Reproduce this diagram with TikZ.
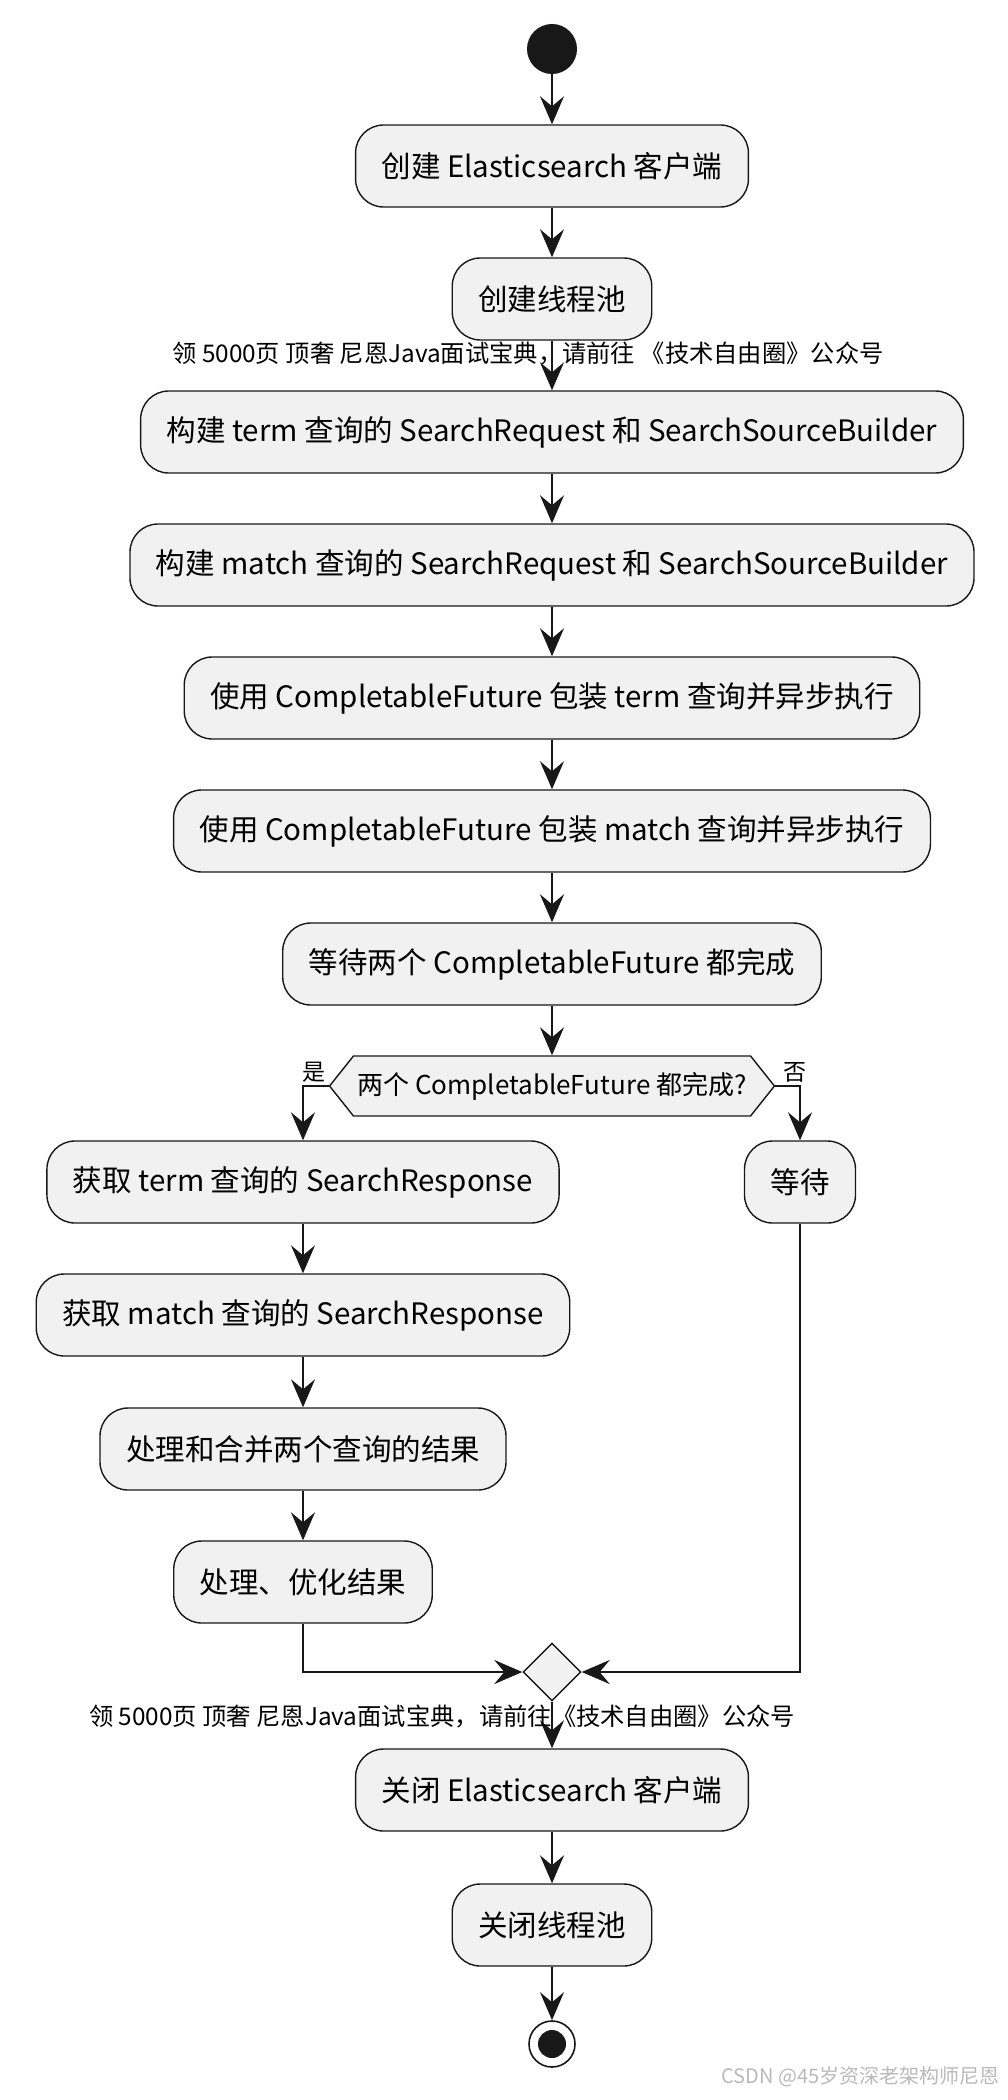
\documentclass[tikz,border=0pt]{standalone}
\usepackage{fontspec}
\setmainfont{Noto Sans CJK SC}
\usetikzlibrary{arrows.meta}
\usetikzlibrary{shapes.geometric}
\usetikzlibrary{shapes.symbols}
\definecolor{actfill}{HTML}{F1F1F1}
\definecolor{actline}{HTML}{181818}
\tikzset{
	actbox/.style={draw=actline, fill=actfill, line width=1.4pt, rounded corners=28pt, minimum height=82pt, inner xsep=26pt, font=\fontsize{29.5}{32}\selectfont},
	decbox/.style={signal, signal to=west and east, signal pointer angle=103, draw=actline, fill=actfill, line width=1.4pt, minimum height=60pt, inner xsep=4pt, font=\fontsize{26}{28}\selectfont},
	mergebox/.style={diamond, draw=actline, fill=actfill, line width=1.4pt, minimum width=58pt, minimum height=58pt, inner sep=0pt},
	startnode/.style={circle, fill=actline, minimum size=50pt, inner sep=0pt},
	endnode/.style={circle, draw=actline, line width=1.6pt, fill=white, minimum size=46pt, inner sep=0pt, path picture={\fill[actline] (path picture bounding box.center) circle (14pt);}},
	flow/.style={draw=actline, line width=2.2pt, -{Stealth[length=28pt,width=24pt,inset=10pt]}},
	branchlbl/.style={font=\fontsize{23}{25}\selectfont},
	notetext/.style={font=\fontsize{24.3}{27}\selectfont}
}
\newcommand{\drawAction}[3]{
	\node[actbox] (#1) at (#2) {#3};
}
\newcommand{\drawFlow}[2]{
	\draw[flow] (#1) -- (#2);
}
\begin{document}
\begin{tikzpicture}[x=1pt, y=-1pt]
	\useasboundingbox (0,0) rectangle (1007,2100);

	% main column
	\node[startnode] (start) at (552,49) {};
	\drawAction{newClient}{552,166}{创建 Elasticsearch 客户端}
	\drawAction{newPool}{552,299}{创建线程池}
	\drawAction{termReq}{552,432}{构建 term 查询的 SearchRequest 和 SearchSourceBuilder}
	\drawAction{matchReq}{552,565}{构建 match 查询的 SearchRequest 和 SearchSourceBuilder}
	\drawAction{termFuture}{552,698}{使用 CompletableFuture 包装 term 查询并异步执行}
	\drawAction{matchFuture}{552,831}{使用 CompletableFuture 包装 match 查询并异步执行}
	\drawAction{waitAll}{552,964}{等待两个 CompletableFuture 都完成}
	\node[decbox] (allDone) at (552,1086) {两个 CompletableFuture 都完成?};

	% yes branch
	\drawAction{termResp}{303,1182}{获取 term 查询的 SearchResponse}
	\drawAction{matchResp}{303,1315}{获取 match 查询的 SearchResponse}
	\drawAction{mergeRes}{303,1449}{处理和合并两个查询的结果}
	\drawAction{tuneRes}{303,1582}{处理、优化结果}

	% no branch
	\drawAction{waitMore}{800,1182}{等待}

	\node[mergebox] (join) at (552,1672) {};
	\drawAction{closeClient}{552,1790}{关闭 Elasticsearch 客户端}
	\drawAction{closePool}{552,1925}{关闭线程池}
	\node[endnode] (stop) at (552,2044) {};

	\drawFlow{start.south}{newClient.north}
	\drawFlow{newClient.south}{newPool.north}
	\drawFlow{newPool.south}{termReq.north}
	\drawFlow{termReq.south}{matchReq.north}
	\drawFlow{matchReq.south}{termFuture.north}
	\drawFlow{termFuture.south}{matchFuture.north}
	\drawFlow{matchFuture.south}{waitAll.north}
	\drawFlow{waitAll.south}{allDone.north}
	\draw[flow] (allDone.west) -| (termResp.north);
	\draw[flow] (allDone.east) -| (waitMore.north);
	\drawFlow{termResp.south}{matchResp.north}
	\drawFlow{matchResp.south}{mergeRes.north}
	\drawFlow{mergeRes.south}{tuneRes.north}
	\draw[flow] (tuneRes.south) |- (join.west);
	\draw[flow] (waitMore.south) |- (join.east);
	\drawFlow{join.south}{closeClient.north}
	\drawFlow{closeClient.south}{closePool.north}
	\drawFlow{closePool.south}{stop.north}

	\node[branchlbl] (yesLbl) at (314,1072) {是};
	\node[branchlbl] (noLbl) at (795,1072) {否};

	% overlaid notes
	\node[notetext] (note1) at (528,353) {领 5000页 顶奢 尼恩Java面试宝典，请前往 《技术自由圈》公众号};
	\node[notetext] (note2) at (442,1716) {领 5000页 顶奢 尼恩Java面试宝典，请前往《技术自由圈》公众号};
	\node[anchor=east, text=gray!55, font=\fontsize{20}{22}\selectfont] (csdn) at (1003,2077) {CSDN @45岁资深老架构师尼恩};
\end{tikzpicture}
\end{document}
